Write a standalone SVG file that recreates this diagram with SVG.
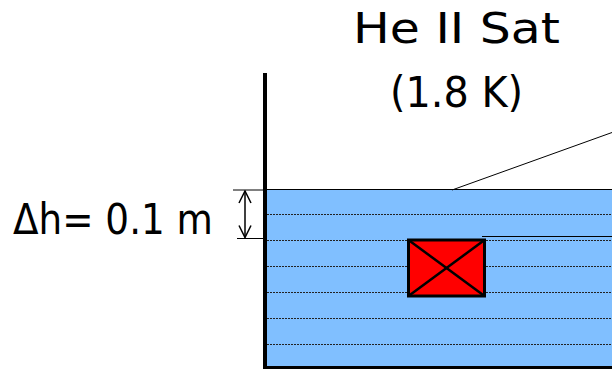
<svg xmlns="http://www.w3.org/2000/svg" width="612" height="370" viewBox="0 0 612 370">
  <defs>
    <style>
      .lbl { font-family: "DejaVu Sans", "Liberation Sans", sans-serif; font-size: 42px; fill: #000; }
      .dot { stroke: #222; stroke-width: 1; stroke-dasharray: 2 1; fill: none; }
      .thin { stroke: #000; stroke-width: 1; fill: none; }
    </style>
    <marker id="openArrow" viewBox="0 0 14 14" refX="13" refY="7" markerWidth="14" markerHeight="14" markerUnits="userSpaceOnUse" orient="auto-start-reverse">
      <path d="M1,1 L13,7 L1,13" fill="none" stroke="#000" stroke-width="1.5"/>
    </marker>
  </defs>

  <rect width="612" height="370" fill="#fff"/>

  <g id="tank">
    <rect x="267" y="189" width="345" height="177" fill="#80BFFF"/>
    <line class="dot" x1="267" y1="214.5" x2="612" y2="214.5"/>
    <line class="dot" x1="267" y1="240.5" x2="612" y2="240.5"/>
    <line class="dot" x1="267" y1="266.5" x2="612" y2="266.5"/>
    <line class="dot" x1="267" y1="292.5" x2="612" y2="292.5"/>
    <line class="dot" x1="267" y1="318.5" x2="612" y2="318.5"/>
    <line class="dot" x1="267" y1="344.5" x2="612" y2="344.5"/>
    <line x1="267" y1="189.5" x2="612" y2="189.5" stroke="#000" stroke-width="1"/>
    <line x1="265" y1="73" x2="265" y2="369" stroke="#000" stroke-width="4"/>
    <line x1="263" y1="367.5" x2="612" y2="367.5" stroke="#000" stroke-width="3"/>
  </g>

  <g id="heater">
    <rect x="408.5" y="240" width="76" height="56" fill="#FF0000" stroke="#000" stroke-width="3"/>
    <line x1="408.5" y1="240" x2="484.5" y2="296" stroke="#000" stroke-width="2.5"/>
    <line x1="484.5" y1="240" x2="408.5" y2="296" stroke="#000" stroke-width="2.5"/>
  </g>

  <g id="labels">
    <text class="lbl" x="456.5" y="43" text-anchor="middle" textLength="207" lengthAdjust="spacingAndGlyphs">He II Sat</text>
    <text class="lbl" x="456.5" y="107" text-anchor="middle" textLength="133" lengthAdjust="spacingAndGlyphs">(1.8 K)</text>
    <text class="lbl" x="13" y="234" textLength="200" lengthAdjust="spacingAndGlyphs">Δh= 0.1 m</text>
  </g>

  <g id="connectors">
    <line class="thin" x1="452" y1="190" x2="612" y2="132.5"/>
    <line class="thin" x1="482" y1="236.5" x2="612" y2="236.5"/>
    <line class="thin" x1="233" y1="190" x2="263" y2="190"/>
    <line class="thin" x1="237" y1="238.5" x2="263" y2="238.5"/>
    <line x1="245" y1="191" x2="245" y2="237.5" stroke="#000" stroke-width="1.5" marker-start="url(#openArrow)" marker-end="url(#openArrow)"/>
  </g>
</svg>
